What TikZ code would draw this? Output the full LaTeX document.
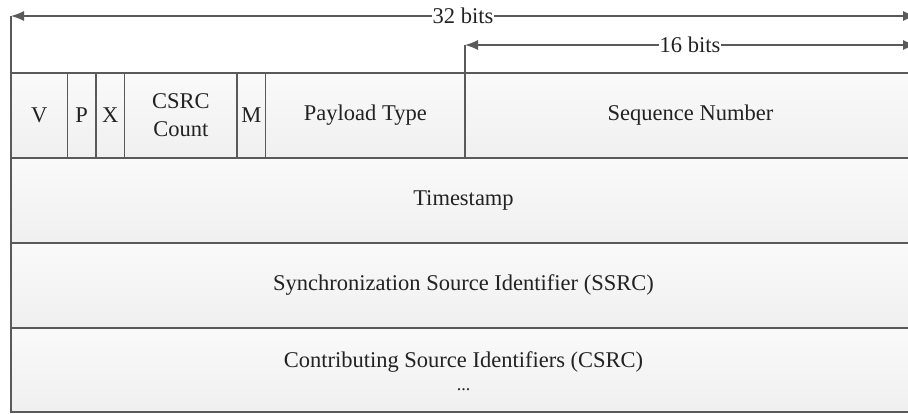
\documentclass[tikz,border=0pt]{standalone}
\usepackage{fontspec}
\setmainfont{Liberation Serif}
\usetikzlibrary{arrows.meta}
\definecolor{edgegray}{HTML}{5A5A5A}
\definecolor{txtgray}{HTML}{222222}
\tikzset{
  field/.style={draw=edgegray, line width=1.3pt, top color=white!98!black, bottom color=black!6,
    inner sep=0pt, outer sep=0pt, anchor=north west, text=txtgray, align=center,
    font=\fontsize{22.5}{28}\selectfont},
  dimline/.style={draw=edgegray, line width=1.3pt},
  dimarrow/.style={dimline, -{Latex[length=13pt,width=10pt]}},
  dimlabel/.style={fill=white, inner sep=0.5pt, text=txtgray, font=\fontsize{22.5}{28}\selectfont}
}
\begin{document}
\begin{tikzpicture}[x=1pt,y=-1pt]
\useasboundingbox (0,0) rectangle (908,414);
\clip (0,0) rectangle (908,414);
% first row fields
\node[field, minimum width=56.5pt, minimum height=85pt] (v) at (11,73) {V};
\node[field, minimum width=28.5pt, minimum height=85pt] (p) at (67.5,73) {P};
\node[field, minimum width=28.7pt, minimum height=85pt] (x) at (96,73) {X};
\node[field, minimum width=112.3pt, minimum height=85pt] (cc) at (124.7,73) {CSRC\\Count};
\node[field, minimum width=28.7pt, minimum height=85pt] (m) at (237,73) {M};
\node[field, minimum width=199.3pt, minimum height=85pt] (pt) at (265.7,73) {Payload Type};
\node[field, minimum width=451pt, minimum height=85pt] (sn) at (465,73) {Sequence Number};
% full rows
\node[field, minimum width=905pt, minimum height=85pt] (ts) at (11,158) {Timestamp};
\node[field, minimum width=905pt, minimum height=85pt] (ssrc) at (11,243) {Synchronization Source Identifier (SSRC)};
\node[field, minimum width=905pt, minimum height=84pt] (csrc) at (11,328) {};
\node[text=txtgray, font=\fontsize{22.5}{28}\selectfont] (csrct) at (463.5,362) {Contributing Source Identifiers (CSRC)};
\node[text=txtgray, font=\fontsize{18}{22}\selectfont] (dots) at (463.5,390) {...};
% dimension lines
\coordinate (l32) at (11,16);
\coordinate (r32) at (916,16);
\coordinate (l16) at (465,45);
\coordinate (r16) at (916,45);
\draw[dimline] (v.north west) -- (l32);
\draw[dimline] (sn.north west) -- (l16);
\node[dimlabel] (lab32) at (463,16) {32 bits};
\node[dimlabel] (lab16) at (690,45) {16 bits};
\draw[dimarrow] (lab32.west) -- (l32);
\draw[dimarrow] (lab32.east) -- (r32);
\draw[dimarrow] (lab16.west) -- (l16);
\draw[dimarrow] (lab16.east) -- (r16);
\end{tikzpicture}
\end{document}
